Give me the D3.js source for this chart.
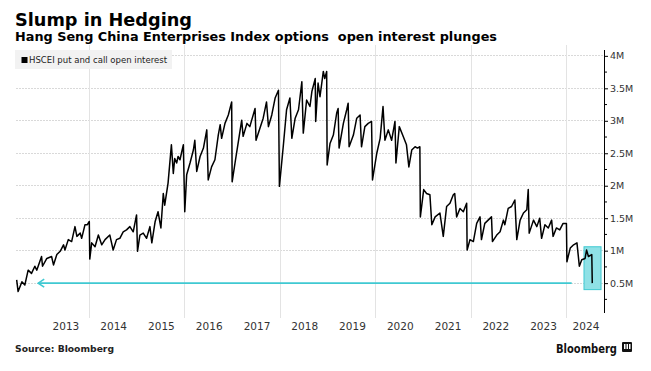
<!DOCTYPE html>
<html>
<head>
<meta charset="utf-8">
<script src="https://cdn.jsdelivr.net/npm/d3@7"></script>
<style>
  body { margin: 0; background: #fff; }
  svg { display: block; font-family: "DejaVu Sans", Verdana, sans-serif; }
</style>
</head>
<body>
<div id="chart"></div>
<script>
// ---------------- DATA ----------------
const seriesName = "HSCEI put and call open interest";
// decimal-year dates of turning points
const dates = [2012.48,2012.51,2012.59,2012.65,2012.72,2012.79,2012.86,2012.90,2013.00,2013.02,2013.11,2013.21,2013.25,2013.32,2013.39,2013.46,2013.49,2013.56,2013.63,2013.70,2013.74,2013.81,2013.84,2013.91,2013.96,2014.00,2014.01,2014.05,2014.12,2014.19,2014.26,2014.33,2014.43,2014.50,2014.57,2014.64,2014.71,2014.78,2014.85,2014.92,2014.99,2015.01,2015.06,2015.13,2015.20,2015.27,2015.31,2015.38,2015.44,2015.50,2015.55,2015.58,2015.65,2015.72,2015.76,2015.79,2015.83,2015.86,2015.90,2015.93,2015.97,2016.00,2016.04,2016.11,2016.18,2016.21,2016.25,2016.32,2016.39,2016.46,2016.49,2016.56,2016.63,2016.70,2016.74,2016.77,2016.84,2016.91,2016.98,2016.99,2017.05,2017.12,2017.19,2017.22,2017.30,2017.36,2017.47,2017.49,2017.57,2017.64,2017.71,2017.75,2017.82,2017.89,2017.96,2017.98,2018.06,2018.13,2018.20,2018.24,2018.31,2018.38,2018.45,2018.48,2018.55,2018.62,2018.66,2018.73,2018.74,2018.79,2018.83,2018.90,2018.93,2018.97,2018.98,2019.04,2019.11,2019.18,2019.21,2019.23,2019.32,2019.39,2019.42,2019.44,2019.53,2019.60,2019.67,2019.70,2019.77,2019.84,2019.91,2019.93,2020.02,2020.09,2020.15,2020.19,2020.26,2020.33,2020.40,2020.42,2020.49,2020.56,2020.64,2020.69,2020.75,2020.82,2020.87,2020.92,2020.93,2021.00,2021.06,2021.13,2021.17,2021.24,2021.34,2021.41,2021.48,2021.55,2021.62,2021.65,2021.69,2021.76,2021.83,2021.90,2021.91,2021.97,2022.04,2022.11,2022.18,2022.21,2022.28,2022.35,2022.42,2022.44,2022.53,2022.60,2022.67,2022.70,2022.77,2022.84,2022.91,2022.95,2023.02,2023.09,2023.16,2023.19,2023.21,2023.30,2023.37,2023.43,2023.47,2023.54,2023.61,2023.68,2023.71,2023.78,2023.85,2023.92,2023.99,2024.00,2024.07,2024.14,2024.21,2024.26,2024.31,2024.38,2024.41,2024.45,2024.52,2024.53];
// open interest, millions of contracts
const openInterest = [0.55,0.37,0.52,0.47,0.70,0.65,0.76,0.70,0.91,0.76,0.88,0.91,0.78,0.94,0.99,1.09,1.01,1.17,1.14,1.37,1.22,1.27,1.19,1.40,1.40,1.45,0.87,1.12,1.06,1.24,1.09,1.17,1.24,1.01,1.17,1.19,1.29,1.32,1.37,1.29,1.55,0.99,1.24,1.27,1.19,1.37,1.12,1.45,1.60,1.35,1.88,1.70,2.04,2.63,2.19,2.42,2.35,2.45,2.40,2.50,2.63,1.60,2.17,2.35,2.55,2.70,2.22,2.45,2.58,2.86,2.09,2.29,2.40,2.78,2.94,2.73,2.96,3.09,3.29,2.06,2.35,2.68,3.01,2.76,2.96,2.91,3.19,2.70,2.88,3.04,3.29,2.91,3.09,3.35,3.47,1.99,2.60,3.17,3.35,2.73,3.04,3.17,3.60,2.81,3.32,3.22,3.45,3.65,2.99,3.58,3.37,3.76,3.65,3.76,2.32,2.65,2.78,3.12,3.19,2.58,2.96,3.17,3.27,2.60,2.78,3.04,3.09,2.60,2.91,2.96,2.99,2.09,2.50,2.73,3.22,2.70,2.86,2.70,2.99,2.35,2.91,2.78,2.63,2.29,2.55,2.60,2.58,2.60,1.52,1.94,1.88,1.86,1.40,1.52,1.58,1.22,1.68,1.73,1.86,1.88,1.52,1.65,1.60,1.73,1.01,1.17,1.14,1.42,1.52,1.17,1.42,1.47,1.52,1.14,1.24,1.29,1.47,1.40,1.65,1.68,1.78,1.17,1.47,1.58,1.63,1.94,1.27,1.47,1.37,1.50,1.19,1.40,1.35,1.47,1.22,1.35,1.32,1.42,1.42,0.83,1.04,1.09,1.12,0.76,0.86,0.88,1.01,0.91,0.94,0.50];
const yearLabels = [2013,2014,2015,2016,2017,2018,2019,2020,2021,2022,2023,2024];
const gridYears = [2014,2016,2018,2020,2022,2024];
const yTickValues = [0.5,1,1.5,2,2.5,3,3.5,4];
const yTickLabels = ["0.5M","1M","1.5M","2M","2.5M","3M","3.5M","4M"];
const yMinorTicks = [0.25,0.75,1.25,1.75,2.25,2.75,3.25,3.75];
const domainStart = 2012.466, domainEnd = 2024.775;
const yDomain = [0.04, 4.09];
// annotation: level reference and highlighted recent plunge
const refLevel = 0.5, refFrom = 2012.93, refTo = 2024.10;
const boxFrom = 2024.357, boxTo = 2024.713, boxLow = 0.40, boxHigh = 1.06;

// ---------------- HELPERS ----------------
function decToDate(y) {
  const yr = Math.floor(y);
  const s = Date.UTC(yr, 0, 1), e = Date.UTC(yr + 1, 0, 1);
  return new Date(s + (y - yr) * (e - s));
}

const W = 651, H = 371;
const svg = d3.select("#chart").append("svg").attr("width", W).attr("height", H);
svg.append("rect").attr("width", W).attr("height", H).attr("fill", "#fff");

const plotL = 16, plotR = 604, plotT = 50, plotB = 313;
const x = d3.scaleUtc().domain([decToDate(domainStart), decToDate(domainEnd)]).range([plotL, plotR]);
const y = d3.scaleLinear().domain(yDomain).range([plotB, plotT]);

// titles
svg.append("text").attr("x", 15).attr("y", 26).attr("font-size", 18).attr("font-weight", "bold")
  .attr("fill", "#000").attr("textLength", 177).attr("lengthAdjust", "spacingAndGlyphs").text("Slump in Hedging");
svg.append("text").attr("x", 15).attr("y", 41).attr("font-size", 12.5).attr("font-weight", "bold")
  .attr("fill", "#000").attr("textLength", 482).attr("lengthAdjust", "spacingAndGlyphs")
  .style("white-space", "pre").attr("xml:space", "preserve")
  .text("Hang Seng China Enterprises Index options  open interest plunges");

// horizontal gridlines
svg.append("g").selectAll("line").data(yTickValues).join("line")
  .attr("x1", plotL).attr("x2", plotR).attr("y1", d => y(d)).attr("y2", d => y(d))
  .attr("stroke", "#d9d9d9").attr("stroke-width", 1).attr("stroke-dasharray", "2,1")
  .attr("shape-rendering", "crispEdges");
// vertical gridlines
svg.append("g").selectAll("line").data(gridYears).join("line")
  .attr("x1", d => x(decToDate(d))).attr("x2", d => x(decToDate(d)))
  .attr("y1", plotT - 5).attr("y2", plotB + 5)
  .attr("stroke", "#e3e3e3").attr("stroke-width", 1).attr("shape-rendering", "crispEdges");

// legend
const lg = svg.append("g");
lg.append("rect").attr("x", 15).attr("y", 50).attr("width", 157).attr("height", 19).attr("fill", "#f2f2f2");
lg.append("rect").attr("x", 21.5).attr("y", 57).attr("width", 6).attr("height", 6).attr("fill", "#000");
lg.append("text").attr("x", 29).attr("y", 63).attr("font-size", 8).attr("fill", "#222")
  .attr("textLength", 138).attr("lengthAdjust", "spacingAndGlyphs").text(seriesName);

// reference arrow (teal)
const teal = "#3fc9d2";
const ry = y(refLevel);
svg.append("line").attr("x1", x(decToDate(refFrom))).attr("x2", x(decToDate(refTo)))
  .attr("y1", ry).attr("y2", ry).attr("stroke", teal).attr("stroke-width", 1.6);
const ax = x(decToDate(refFrom));
svg.append("path").attr("d", `M${ax + 6},${ry - 4} L${ax},${ry} L${ax + 6},${ry + 4}`)
  .attr("fill", "none").attr("stroke", teal).attr("stroke-width", 1.6);

// highlight box
svg.append("rect")
  .attr("x", x(decToDate(boxFrom))).attr("y", y(boxHigh))
  .attr("width", x(decToDate(boxTo)) - x(decToDate(boxFrom)))
  .attr("height", y(boxLow) - y(boxHigh))
  .attr("fill", "#8fe1e6").attr("stroke", teal).attr("stroke-width", 1);

// series line
const data = dates.map((d, i) => ({ date: decToDate(d), v: openInterest[i] }));
svg.append("path").datum(data)
  .attr("fill", "none").attr("stroke", "#000").attr("stroke-width", 1.5).attr("stroke-linejoin", "round")
  .attr("d", d3.line().x(d => x(d.date)).y(d => y(d.v)));

// y axis (right)
const yAxis = d3.axisRight(y).tickValues(yTickValues).tickSize(4).tickPadding(2)
  .tickFormat((d, i) => yTickLabels[i]);
const ga = svg.append("g").attr("transform", `translate(${plotR},0)`).call(yAxis);
ga.select(".domain").attr("stroke", "#000").attr("d", `M0.5,${plotT}V${plotB}`);
ga.selectAll(".tick line").attr("stroke", "#000");
ga.selectAll(".tick text").attr("font-size", 9.5).attr("fill", "#333").attr("font-family", "DejaVu Sans, sans-serif");
ga.append("g").selectAll("line").data(yMinorTicks).join("line")
  .attr("x1", 0).attr("x2", 3).attr("y1", d => y(d)).attr("y2", d => y(d)).attr("stroke", "#000");

// x axis labels (centered within each year's visible span)
const dEnd = decToDate(domainEnd), dStart = decToDate(domainStart);
const labelDates = yearLabels.map(yr => {
  const s = Math.max(+decToDate(yr), +dStart), e = Math.min(+decToDate(yr + 1), +dEnd);
  return new Date((s + e) / 2);
});
const xAxis = d3.axisBottom(x).tickValues(labelDates).tickSize(0).tickPadding(0)
  .tickFormat((d, i) => String(yearLabels[i]));
const gx = svg.append("g").attr("transform", `translate(0,${plotB + 17})`).call(xAxis);
gx.select(".domain").remove();
gx.selectAll(".tick text").attr("font-size", 10.5).attr("fill", "#333").attr("dy", 0)
  .attr("font-family", "DejaVu Sans, sans-serif");

// footer
svg.append("text").attr("x", 15).attr("y", 352).attr("font-size", 8.5).attr("font-weight", "bold")
  .attr("fill", "#222").attr("textLength", 99).attr("lengthAdjust", "spacingAndGlyphs").text("Source: Bloomberg");
svg.append("text").attr("x", 556).attr("y", 353).attr("font-size", 12.5).attr("font-weight", "bold")
  .attr("fill", "#111").attr("textLength", 61).attr("lengthAdjust", "spacingAndGlyphs").text("Bloomberg");
const ic = svg.append("g").attr("transform", "translate(622,342)");
ic.append("rect").attr("width", 10).attr("height", 10).attr("rx", 1).attr("fill", "#111");
ic.append("rect").attr("x", 2).attr("y", 2).attr("width", 1.5).attr("height", 5).attr("fill", "#fff");
ic.append("rect").attr("x", 4.5).attr("y", 2).attr("width", 1.5).attr("height", 5).attr("fill", "#fff");
ic.append("rect").attr("x", 7).attr("y", 2).attr("width", 1.5).attr("height", 5).attr("fill", "#fff");
</script>
</body>
</html>
